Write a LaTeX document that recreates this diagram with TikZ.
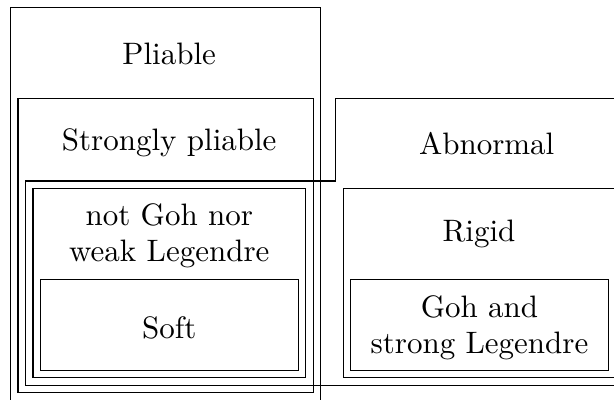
\documentclass[tikz,border=0pt]{standalone}
\usepackage{xcolor,tikz}

\tikzset{
  setline/.style={draw=black, line width=0.4pt},
  setlabel/.style={align=center, inner sep=0pt,
                   font=\fontsize{10pt}{11.4pt}\selectfont}
}

\begin{document}
\begin{tikzpicture}[x=0.3226pt, y=-0.3226pt]

%% frame of the picture (the outer sets run past it)
\clip (0,0) rectangle (614,399);

%% left column: Pliable > Strongly pliable > not Goh nor weak Legendre > Soft
\draw[setline] (10.7,7.5)   rectangle (320.5,401);
\draw[setline] (17.9,98.3)  rectangle (313.3,392.5);
\draw[setline] (33.1,188.6) rectangle (305.7,377.8);
\draw[setline] (40.6,279.3) rectangle (298.3,370.2);

%% Abnormal wraps round the left column's lower part
\draw[setline] (25.4,385.2) -- (25.4,181) -- (335.8,181) -- (335.8,98.3)
  -- (623,98.3) -- (623,385.2) -- cycle;

%% right column: Rigid > Goh and strong Legendre
\draw[setline] (343.3,188.6) rectangle (615.6,377.8);
\draw[setline] (350.5,279.3) rectangle (608.3,370.2);

%% labels
\node[setlabel, anchor=base] (pliable)  at (169.2,64.3)  {Pliable};
\node[setlabel, anchor=base] (strongly) at (169.2,150)   {Strongly pliable};
\node[setlabel, anchor=base] (abnormal) at (486.7,154)   {Abnormal};
\node[setlabel, anchor=base] (rigid)    at (479,241.7)   {Rigid};
\node[setlabel, anchor=base] (soft)     at (169.3,338.3) {Soft};
\node[setlabel] (notgoh) at (169.3,235.6) {not Goh nor\\weak Legendre};
\node[setlabel] (gohand) at (479.5,327.6) {Goh and\\strong Legendre};

\end{tikzpicture}
\end{document}
